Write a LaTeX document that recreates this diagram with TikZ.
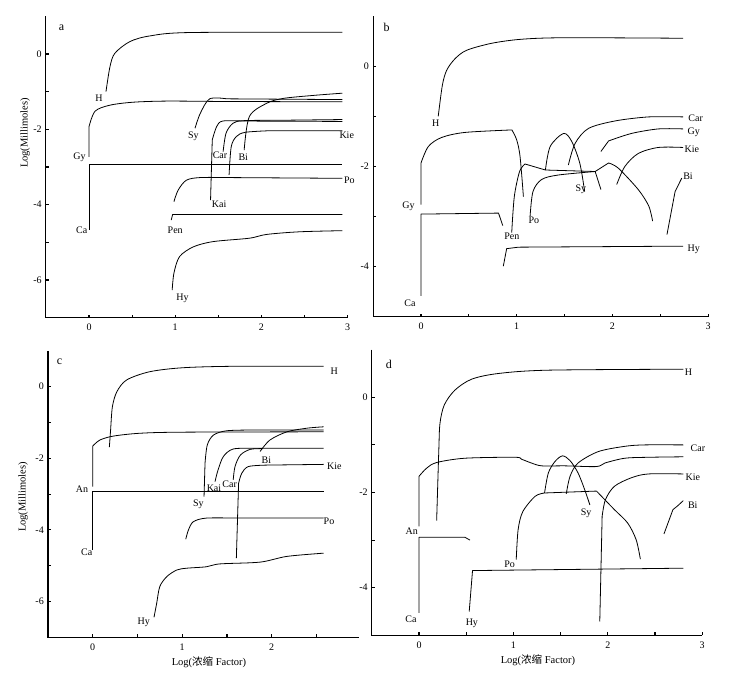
\documentclass[tikz,border=0pt]{standalone}
\usepackage{fontspec}
\setmainfont{Liberation Serif}
\newfontfamily\cjk{Noto Sans CJK SC}
\tikzset{
  curve/.style={line width=0.8pt, line join=round},
  axisline/.style={line width=1.1pt},
  lbl/.style={font=\fontsize{10}{12}\selectfont, inner sep=0pt},
  ticklbl/.style={font=\fontsize{10}{12}\selectfont, inner sep=0pt},
  paneltag/.style={font=\fontsize{12}{14}\selectfont, inner sep=0pt},
  axtitle/.style={font=\fontsize{10.5}{12}\selectfont, inner sep=0pt},
}
% #1 ymin, #2 ymax, #3 xmax, #4 y ticks, #5 x labels, #6 y labels
\newcommand{\axesframe}[6]{%
  \draw[axisline] (-0.5,#2) -- (-0.5,#1) -- (#3,#1);
  \foreach \t in {0,0.5,...,#3} \draw[axisline] (\t,#1) -- ++(0,3pt);
  \foreach \t in {#4} \draw[axisline] (-0.5,\t) -- ++(3pt,0);
  \foreach \t in {#5} \node[ticklbl, anchor=north] at ([yshift=-6pt]\t,#1) {\t};
  \foreach \t in {#6} \node[ticklbl, anchor=east] at ([xshift=-4pt]-0.5,\t) {\t};
}
\begin{document}
\begin{tikzpicture}
\useasboundingbox (0,0) rectangle (731pt,-679pt);
\node[axtitle, rotate=90] (ytitleA) at (25pt,-133pt) {Log(Millimoles)};
\node[axtitle, rotate=90] (ytitleC) at (23pt,-497pt) {Log(Millimoles)};
\node[axtitle] (xtitleC) at (209pt,-662pt) {Log({\cjk 浓缩} Factor)};
\node[axtitle] (xtitleD) at (538pt,-660pt) {Log({\cjk 浓缩} Factor)};

%% panel a
\begin{scope}[shift={(89pt,-54pt)}, x=86.2pt, y=37.67pt]
  \axesframe{-7}{1}{3}{0,-1,...,-6}{0,1,2,3}{0,-2,-4,-6}
  \node[paneltag] (a) at (-0.32,0.71) {a};
  \draw[curve] plot[smooth,tension=.5] coordinates {(0.197,-1.0) (0.243,-0.34) (0.30,0.02) (0.475,0.33) (0.707,0.48) (1.17,0.57) (2.94,0.575)};
  \draw[curve] (0,-2.73) -- (0,-1.93) plot[smooth,tension=.5] coordinates {(0,-1.93) (0.07,-1.52) (0.24,-1.36) (0.51,-1.28) (0.9,-1.25) (1.5,-1.26)} -- (2.94,-1.27);
  \draw[curve] plot[smooth,tension=.5] coordinates {(1.23,-1.97) (1.29,-1.58) (1.40,-1.19) (1.6,-1.19)} -- (2.94,-1.21);
  \draw[curve] plot[smooth,tension=.5] coordinates {(1.80,-2.55) (1.86,-1.66) (2.06,-1.31) (2.25,-1.18) (2.6,-1.1) (2.94,-1.04)};
  \draw[curve] plot[smooth,tension=.5] coordinates {(1.556,-2.59) (1.59,-2.1) (1.67,-1.84) (1.79,-1.77) (2.2,-1.76)} -- (2.94,-1.74);
  \draw[curve] (1.41,-3.88) -- (1.43,-2.28) plot[smooth,tension=.5] coordinates {(1.43,-2.28) (1.48,-1.93) (1.55,-1.78) (1.8,-1.78)} -- (2.94,-1.79);
  \draw[curve] plot[smooth,tension=.5] coordinates {(1.625,-3.21) (1.65,-2.46) (1.71,-2.19) (1.81,-2.08) (2.06,-2.04)} -- (2.94,-2.04);
  \draw[curve] (0,-4.67) -- (0,-2.93) -- (2.94,-2.93);
  \draw[curve] plot[smooth,tension=.5] coordinates {(0.985,-3.92) (1.035,-3.61) (1.13,-3.35) (1.29,-3.28) (1.6,-3.28)} -- (2.94,-3.3);
  \draw[curve] (0.954,-4.41) -- (0.97,-4.26) -- (2.94,-4.26);
  \draw[curve] plot[smooth,tension=.5] coordinates {(0.965,-6.27) (0.985,-5.82) (1.05,-5.38) (1.21,-5.12) (1.44,-4.98) (1.86,-4.89) (2.06,-4.79) (2.44,-4.72) (2.94,-4.69)};
  \node[lbl] (aH) at (0.116,-1.18) {H};
  \node[lbl] (aGy) at (-0.11,-2.73) {Gy};
  \node[lbl] (aSy) at (1.21,-2.19) {Sy};
  \node[lbl] (aBi) at (1.79,-2.74) {Bi};
  \node[lbl] (aCar) at (1.52,-2.68) {Car};
  \node[lbl] (aKai) at (1.51,-4.0) {Kai};
  \node[lbl] (aKie) at (2.99,-2.15) {Kie};
  \node[lbl] (aCa) at (-0.085,-4.67) {Ca};
  \node[lbl] (aPo) at (3.02,-3.35) {Po};
  \node[lbl] (aPen) at (1.0,-4.67) {Pen};
  \node[lbl] (aHy) at (1.085,-6.49) {Hy};
\end{scope}

%% panel b
\begin{scope}[shift={(421pt,-66.3pt)}, x=95.7pt, y=50.1pt]
  \axesframe{-5}{1}{3}{0,-1,...,-4}{0,1,2,3}{0,-2,-4}
  \node[paneltag] (b) at (-0.36,0.78) {b};
  \draw[curve] plot[smooth,tension=.5] coordinates {(0.18,-1.0) (0.223,-0.38) (0.268,-0.08) (0.355,0.15) (0.477,0.32) (0.74,0.46) (1.05,0.54) (1.5,0.57) (2.74,0.56)};
  \draw[curve] (0,-2.76) -- (0,-1.93) plot[smooth,tension=.5] coordinates {(0,-1.93) (0.077,-1.6) (0.216,-1.42) (0.46,-1.32) (0.95,-1.27)} plot[smooth,tension=.5] coordinates {(0.95,-1.27) (1.0,-1.47) (1.035,-1.80) (1.07,-2.6)};
  \draw[curve] (0,-4.58) -- (0,-2.95) -- (0.81,-2.93) -- (0.854,-3.18);
  \draw[curve] plot[smooth,tension=.5] coordinates {(0.948,-3.32) (0.975,-2.6) (1.03,-2.1) (1.087,-1.95)} -- (1.30,-2.07) -- (1.82,-2.10) -- (1.88,-2.46);
  \draw[curve] plot[smooth,tension=.5] coordinates {(1.30,-2.07) (1.35,-1.6) (1.49,-1.34) (1.575,-1.5) (1.66,-1.94) (1.71,-2.5)};
  \draw[curve] plot[smooth,tension=.5] coordinates {(1.14,-2.99) (1.17,-2.5) (1.26,-2.26) (1.435,-2.17) (1.82,-2.10)} -- (1.96,-1.93) plot[smooth,tension=.5] coordinates {(1.96,-1.93) (2.06,-2.03) (2.27,-2.46) (2.38,-2.79) (2.42,-3.09)};
  \draw[curve] plot[smooth,tension=.5] coordinates {(1.54,-1.97) (1.61,-1.54) (1.75,-1.24) (2.03,-1.09) (2.38,-1.01) (2.74,-1.01)};
  \draw[curve] (1.88,-1.70) -- (1.96,-1.49) plot[smooth,tension=.5] coordinates {(1.96,-1.49) (2.20,-1.34) (2.48,-1.25) (2.74,-1.25)};
  \draw[curve] plot[smooth,tension=.5] coordinates {(2.045,-2.36) (2.13,-2.0) (2.27,-1.74) (2.48,-1.62) (2.74,-1.62)};
  \draw[curve] (2.57,-3.36) -- (2.655,-2.50) -- (2.725,-2.23);
  \draw[curve] (0.86,-3.99) -- (0.895,-3.64) -- (1.02,-3.61) -- (2.74,-3.59);
  \node[lbl] (bH) at (0.153,-1.14) {H};
  \node[lbl] (bGy) at (-0.13,-2.79) {Gy};
  \node[lbl] (bCa) at (-0.115,-4.72) {Ca};
  \node[lbl] (bPen) at (0.95,-3.40) {Pen};
  \node[lbl] (bSy) at (1.67,-2.45) {Sy};
  \node[lbl] (bPo) at (1.18,-3.08) {Po};
  \node[lbl] (bCar) at (2.87,-1.03) {Car};
  \node[lbl] (bGy2) at (2.85,-1.31) {Gy};
  \node[lbl] (bKie) at (2.83,-1.65) {Kie};
  \node[lbl] (bBi) at (2.79,-2.2) {Bi};
  \node[lbl] (bHy) at (2.85,-3.66) {Hy};
\end{scope}

%% panel c
\begin{scope}[shift={(92.7pt,-386.7pt)}, x=89.5pt, y=35.8pt]
  \axesframe{-7}{1}{2.97}{0,-1,...,-6}{0,1,2}{0,-2,-4,-6}
  \node[paneltag] (c) at (-0.37,0.70) {c};
  \draw[curve] plot[smooth,tension=.5] coordinates {(0.186,-1.69) (0.20,-1.21) (0.22,-0.56) (0.27,-0.14) (0.38,0.19) (0.64,0.42) (1.01,0.53) (1.57,0.57) (2.58,0.57)};
  \draw[curve] (0,-2.79) -- (0,-1.66) plot[smooth,tension=.5] coordinates {(0,-1.66) (0.08,-1.49) (0.23,-1.38) (0.53,-1.30) (1.01,-1.27) (2.58,-1.26)};
  \draw[curve] (0,-4.56) -- (0,-2.92) -- (2.58,-2.92);
  \draw[curve] (1.244,-3.07) -- (1.255,-2.14) plot[smooth,tension=.5] coordinates {(1.255,-2.14) (1.28,-1.63) (1.35,-1.35) (1.50,-1.23) (1.8,-1.21)} -- (2.58,-1.21);
  \draw[curve] plot[smooth,tension=.5] coordinates {(1.367,-2.65) (1.40,-2.33) (1.46,-1.95) (1.57,-1.74) (1.8,-1.72)} -- (2.58,-1.72);
  \draw[curve] plot[smooth,tension=.5] coordinates {(1.57,-2.60) (1.59,-2.23) (1.65,-1.91) (1.76,-1.75) (1.9,-1.73)};
  \draw[curve] plot[smooth,tension=.5] coordinates {(1.87,-1.81) (1.98,-1.49) (2.17,-1.26) (2.39,-1.16) (2.58,-1.12)};
  \draw[curve] (1.605,-4.79) -- (1.63,-2.7) plot[smooth,tension=.5] coordinates {(1.63,-2.7) (1.665,-2.42) (1.74,-2.23) (1.94,-2.19)} -- (2.58,-2.17);
  \draw[curve] plot[smooth,tension=.5] coordinates {(1.04,-4.26) (1.07,-4.0) (1.125,-3.77) (1.27,-3.67) (1.6,-3.67)} -- (2.58,-3.67);
  \draw[curve] plot[smooth,tension=.5] coordinates {(0.685,-6.44) (0.715,-6.05) (0.75,-5.58) (0.83,-5.30) (0.94,-5.12) (1.05,-5.07) (1.27,-5.03) (1.42,-4.95) (1.87,-4.90) (2.17,-4.74) (2.58,-4.65)};
  \node[lbl] (cH) at (2.70,0.42) {H};
  \node[lbl] (cAn) at (-0.12,-2.87) {An};
  \node[lbl] (cCa) at (-0.067,-4.63) {Ca};
  \node[lbl] (cSy) at (1.18,-3.28) {Sy};
  \node[lbl] (cKai) at (1.355,-2.84) {Kai};
  \node[lbl] (cCar) at (1.53,-2.72) {Car};
  \node[lbl] (cBi) at (1.94,-2.05) {Bi};
  \node[lbl] (cKie) at (2.70,-2.23) {Kie};
  \node[lbl] (cPo) at (2.64,-3.75) {Po};
  \node[lbl] (cHy) at (0.57,-6.59) {Hy};
\end{scope}

%% panel d
\begin{scope}[shift={(419pt,-397.3pt)}, x=94.4pt, y=47.6pt]
  \axesframe{-5}{1}{3}{0,-1,...,-4}{0,1,2,3}{0,-2,-4}
  \node[paneltag] (d) at (-0.32,0.69) {d};
  \draw[curve] plot[smooth,tension=.5] coordinates {(0.187,-2.59) (0.21,-1.10) (0.222,-0.55) (0.268,-0.16) (0.38,0.15) (0.557,0.38) (0.84,0.50) (1.37,0.57) (2.80,0.59)};
  \draw[curve] (0,-2.71) -- (0,-1.66) plot[smooth,tension=.5] coordinates {(0,-1.66) (0.08,-1.49) (0.187,-1.37) (0.486,-1.28) (1.015,-1.26) (1.085,-1.30) (1.19,-1.38) (1.30,-1.44) (1.545,-1.44) (1.88,-1.455) (1.97,-1.38) (2.18,-1.28) (2.43,-1.26) (2.80,-1.25)};
  \draw[curve] (0,-4.53) -- (0,-2.94) -- (0.486,-2.94) -- (0.54,-3.0);
  \draw[curve] (0.532,-4.50) -- (0.567,-3.64) -- (2.80,-3.59);
  \draw[curve] plot[smooth,tension=.5] coordinates {(1.03,-3.41) (1.05,-2.78) (1.10,-2.40) (1.23,-2.08) (1.33,-2.01)} -- (1.88,-1.97) plot[smooth,tension=.5] coordinates {(1.88,-1.97) (2.07,-2.36) (2.21,-2.64) (2.30,-2.99) (2.345,-3.40)};
  \draw[curve] plot[smooth,tension=.5] coordinates {(1.33,-2.01) (1.37,-1.59) (1.44,-1.35) (1.52,-1.23) (1.60,-1.33) (1.685,-1.59) (1.755,-1.94) (1.81,-2.26)};
  \draw[curve] plot[smooth,tension=.5] coordinates {(1.56,-2.03) (1.60,-1.66) (1.685,-1.38) (1.90,-1.14) (2.18,-1.03) (2.39,-1.0) (2.80,-1.0)};
  \draw[curve] (1.915,-4.71) -- (1.94,-2.50) plot[smooth,tension=.5] coordinates {(1.94,-2.50) (1.975,-2.15) (2.07,-1.87) (2.25,-1.69) (2.43,-1.61) (2.80,-1.61)};
  \draw[curve] (2.595,-2.87) -- (2.69,-2.36) -- (2.74,-2.28) -- (2.80,-2.17);
  \node[lbl] (dH) at (2.855,0.52) {H};
  \node[lbl] (dAn) at (-0.078,-2.82) {An};
  \node[lbl] (dCa) at (-0.085,-4.66) {Ca};
  \node[lbl] (dHy) at (0.56,-4.74) {Hy};
  \node[lbl] (dPo) at (0.96,-3.50) {Po};
  \node[lbl] (dSy) at (1.77,-2.43) {Sy};
  \node[lbl] (dCar) at (2.955,-1.07) {Car};
  \node[lbl] (dKie) at (2.90,-1.68) {Kie};
  \node[lbl] (dBi) at (2.90,-2.26) {Bi};
\end{scope}
\end{tikzpicture}
\end{document}
